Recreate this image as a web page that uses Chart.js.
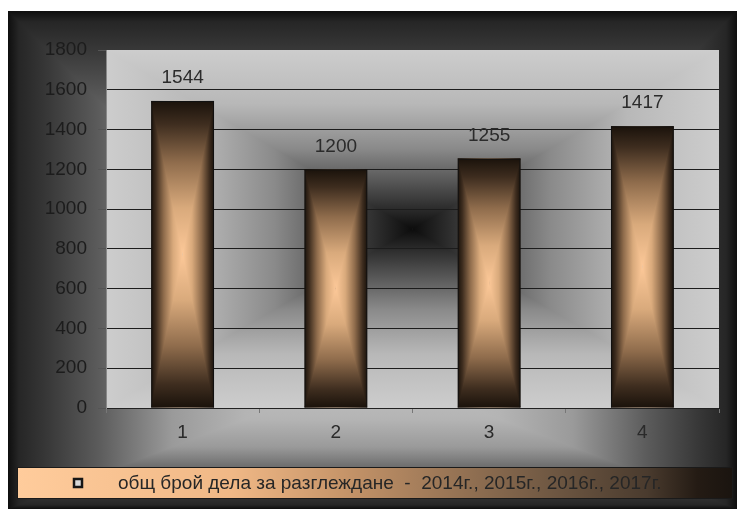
<!DOCTYPE html>
<html>
<head>
<meta charset="utf-8">
<script src="https://cdn.jsdelivr.net/npm/chart.js@4"></script>
<style>
  html, body { margin: 0; background: #fff; }
  #wrap { position: absolute; left: 8px; top: 11px; width: 729px; height: 498px; }
</style>
</head>
<body>
<div id="wrap"><canvas id="chart" width="729" height="498"></canvas></div>
<script>
// data
const categories = ['1', '2', '3', '4'];
const caseCounts = [1544, 1200, 1255, 1417];
const seriesLabel = 'общ брой дела за разглеждане  -  2014г., 2015г., 2016г., 2017г.';
const yTicks = [0, 200, 400, 600, 800, 1000, 1200, 1400, 1600, 1800];

const FONT = '"Liberation Sans", Arial, sans-serif';

// colour stops for "from centre" shading (0 = edge, 1 = centre)
const outerStops = [[0, '#0e0e0e'], [0.03, '#262626'], [0.1, '#363636'], [0.25, '#5c5c5c'], [0.45, '#9a9a9a'], [0.65, '#b4b4b4'], [1, '#c4c4c4']];
const plotStops = [[0, '#cdcdcd'], [0.3, '#b8b8b8'], [0.55, '#8a8a8a'], [0.8, '#444'], [1, '#0c0c0c']];
const barStops = [[0, '#1a120b'], [0.15, '#3e2d1f'], [0.4, '#8f6c4c'], [0.7, '#d9aa7c'], [1, '#fcc898']];
const legendStops = [[0, '#ffcc9c'], [0.3, '#f0b886'], [0.45, '#c8966a'], [0.6, '#9a7656'], [0.75, '#6e5742'], [0.88, '#4a3b2e'], [0.95, '#241b14'], [1, '#1a140f']];

function pyramid(ctx, x0, y0, x1, y1, cx, cy, stops) {
  const grad = (ax, ay, bx, by) => {
    const g = ctx.createLinearGradient(ax, ay, bx, by);
    stops.forEach(s => g.addColorStop(s[0], s[1]));
    return g;
  };
  ctx.save();
  ctx.fillStyle = grad(x0, 0, cx, 0);
  ctx.fillRect(x0, y0, cx - x0, y1 - y0);
  ctx.fillStyle = grad(x1, 0, cx, 0);
  ctx.fillRect(cx, y0, x1 - cx, y1 - y0);
  ctx.beginPath();
  ctx.moveTo(x0, y0); ctx.lineTo(x1, y0); ctx.lineTo(cx, cy); ctx.closePath();
  ctx.fillStyle = grad(0, y0, 0, cy);
  ctx.fill();
  ctx.beginPath();
  ctx.moveTo(x0, y1); ctx.lineTo(x1, y1); ctx.lineTo(cx, cy); ctx.closePath();
  ctx.fillStyle = grad(0, y1, 0, cy);
  ctx.fill();
  ctx.restore();
}

const shading = {
  id: 'shading',
  beforeDraw(chart) {
    const { ctx, width, height, chartArea: a } = chart;
    pyramid(ctx, 0, 0, width, height, width / 2, 360, outerStops);
    pyramid(ctx, a.left, a.top, a.right, a.bottom, (a.left + a.right) / 2, (a.top + a.bottom) / 2, plotStops);

    // legend strip
    const lx0 = 9, lx1 = 725, ly0 = 456, ly1 = 488;
    const g = ctx.createLinearGradient(lx0, 0, lx1, 0);
    legendStops.forEach(s => g.addColorStop(s[0], s[1]));
    ctx.save();
    ctx.fillStyle = g;
    ctx.fillRect(lx0, ly0, lx1 - lx0, ly1 - ly0);
    ctx.strokeStyle = '#1a1a1a';
    ctx.lineWidth = 1;
    ctx.strokeRect(lx0 + 0.5, ly0 + 0.5, lx1 - lx0 - 1, ly1 - ly0 - 1);
    ctx.fillStyle = '#d8d8d8';
    ctx.fillRect(65, 467, 10, 10);
    ctx.strokeStyle = '#161616';
    ctx.lineWidth = 2.5;
    ctx.strokeRect(66, 468, 8, 8);
    ctx.fillStyle = '#262626';
    ctx.font = '19px ' + FONT;
    ctx.textBaseline = 'middle';
    ctx.fillText(chart.data.datasets[0].label, 110, 473);
    ctx.restore();
  },
  beforeDatasetsDraw(chart) {
    const ctx = chart.ctx;
    chart.getDatasetMeta(0).data.forEach(bar => {
      const x0 = bar.x - bar.width / 2, x1 = bar.x + bar.width / 2;
      pyramid(ctx, x0, bar.y, x1, bar.base, bar.x, (bar.y + bar.base) / 2, barStops);
    });
  },
  afterDatasetsDraw(chart) {
    const ctx = chart.ctx;
    ctx.save();
    ctx.font = '19px ' + FONT;
    ctx.fillStyle = '#2b2b2b';
    ctx.textAlign = 'center';
    ctx.textBaseline = 'middle';
    chart.getDatasetMeta(0).data.forEach((bar, i) => {
      ctx.fillText(String(caseCounts[i]), bar.x, bar.y - 23);
    });
    ctx.restore();
  }
};

Chart.defaults.font.family = FONT;

new Chart(document.getElementById('chart'), {
  type: 'bar',
  data: {
    labels: categories,
    datasets: [{
      label: seriesLabel,
      data: caseCounts,
      backgroundColor: 'rgba(0,0,0,0)',
      borderColor: '#111',
      borderWidth: 1,
      categoryPercentage: 1,
      barPercentage: 0.41
    }]
  },
  options: {
    responsive: false,
    animation: false,
    layout: { padding: { top: 39, right: 18, left: 0, bottom: 41 } },
    plugins: {
      legend: { display: false },
      tooltip: { enabled: false }
    },
    scales: {
      x: {
        afterFit: s => { s.height = 60; },
        grid: { offset: true, drawOnChartArea: false, tickLength: 5, tickColor: '#777' },
        border: { color: '#222' },
        ticks: { color: '#2a2a2a', font: { size: 19 }, padding: 8 }
      },
      y: {
        min: yTicks[0],
        max: yTicks[yTicks.length - 1],
        afterFit: s => { s.width = 98; },
        grid: {
          color: c => c.tick.value === yTicks[yTicks.length - 1] ? 'rgba(0,0,0,0)' : '#1c1c1c',
          tickColor: '#555',
          tickLength: 8
        },
        border: { color: '#888' },
        ticks: {
          stepSize: yTicks[1] - yTicks[0],
          color: '#1c1c1c',
          font: { size: 19 },
          padding: 11,
          callback: v => String(v)
        }
      }
    }
  },
  plugins: [shading]
});
</script>
</body>
</html>
